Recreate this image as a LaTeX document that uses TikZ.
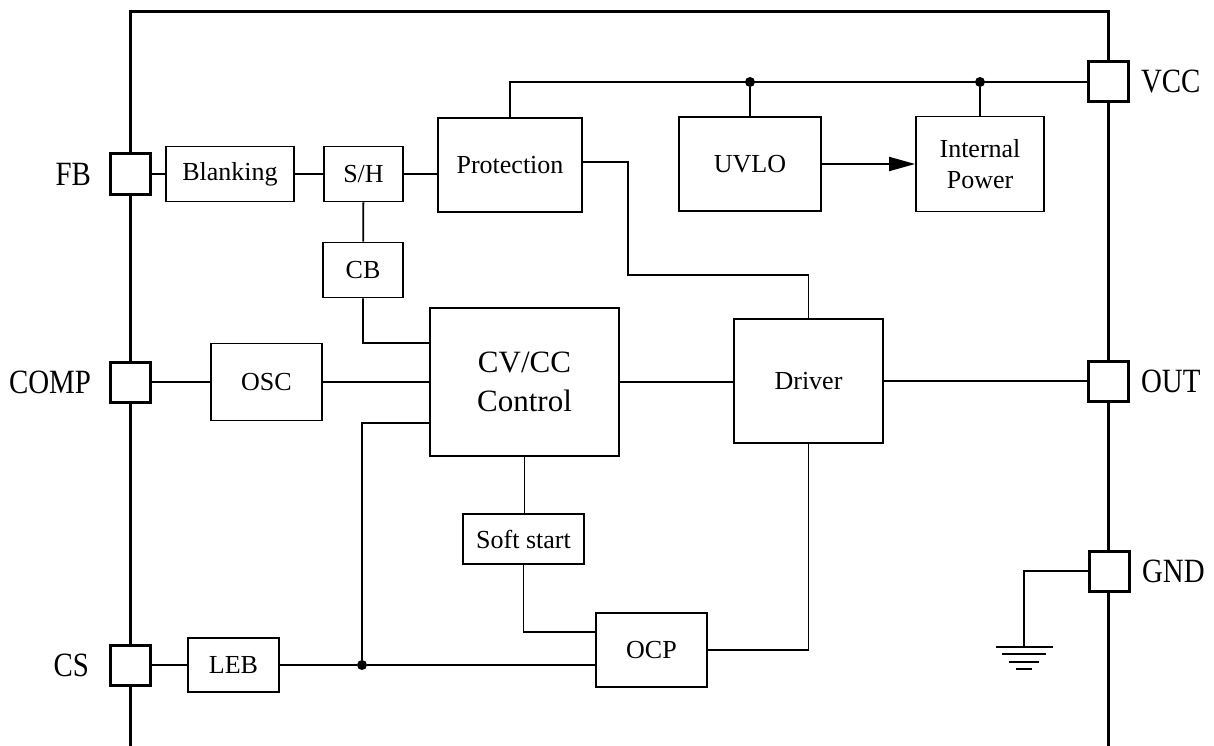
\documentclass[tikz,border=0pt]{standalone}
\usepackage{fontspec}
\setmainfont{Liberation Serif}
\usepackage{graphicx}
\usetikzlibrary{calc,positioning,arrows.meta}
\newcommand{\pinlabel}[1]{\scalebox{0.85}[1]{\fontsize{34}{40}\selectfont #1}}

\begin{document}
\begin{tikzpicture}[x=1pt,y=-1pt,
    blk/.style={draw,line width=1.8pt,inner sep=0pt,align=center,font=\fontsize{26}{31}\selectfont},
    pin/.style={draw,line width=3pt,fill=white,minimum size=40pt,inner sep=0pt},
    wire/.style={line width=1.8pt},
    rail/.style={line width=3pt},
    jdot/.style={circle,fill,inner sep=0pt,minimum size=10pt}]
    \useasboundingbox (0,0) rectangle (1214,746);
    % package outline
    \draw[rail](130,746)--(130,12)--(1108,12)--(1108,746);
    % pins
    \node[pin](FB)at(130,174){};
    \node[pin](COMP)at(130,382){};
    \node[pin](CS)at(130,665){};
    \node[pin](VCC)at(1108,82){};
    \node[pin](OUT)at(1108,381){};
    \node[pin](GND)at(1109,571){};
    \node[left=14pt of FB]{\pinlabel{FB}};
    \node[left=14pt of COMP]{\pinlabel{COMP}};
    \node[left=16pt of CS]{\pinlabel{CS}};
    \node[right=8pt of VCC]{\pinlabel{VCC}};
    \node[right=8pt of OUT]{\pinlabel{OUT}};
    \node[right=8pt of GND]{\pinlabel{GND}};
    % blocks
    \node[blk,minimum width=128pt,minimum height=55pt](blank)at(230,174){Blanking};
    \node[blk,minimum width=79pt,minimum height=55pt](sh)at(363.5,174){S/H};
    \node[blk,minimum width=144pt,minimum height=94pt](prot)at(510,165){Protection};
    \node[blk,minimum width=80pt,minimum height=55pt](cb)at(363,270){CB};
    \node[blk,minimum width=142pt,minimum height=94pt](uvlo)at(750,164){UVLO};
    \node[blk,minimum width=128pt,minimum height=95pt](ipow)at(980,164){Internal\\Power};
    \node[blk,minimum width=111pt,minimum height=77pt](osc)at(266.5,382){OSC};
    \node[blk,minimum width=189pt,minimum height=148pt,font=\fontsize{31}{39}\selectfont](cvcc)at(524.5,382){CV/CC\\Control};
    \node[blk,minimum width=149pt,minimum height=124pt](drv)at(808.5,381){Driver};
    \node[blk,minimum width=121pt,minimum height=50pt](soft)at(523.5,539){Soft start};
    \node[blk,minimum width=91pt,minimum height=54pt](leb)at(233.5,665){LEB};
    \node[blk,minimum width=111pt,minimum height=74pt](ocp)at(651.5,650){OCP};
    % junctions
    \node[jdot](j1)at(uvlo.north |- VCC){};
    \node[jdot](j2)at(ipow.north |- VCC){};
    \node[jdot](j3)at(362,665){};
    \coordinate(pbend)at(628,275);
    \coordinate(gtop)at(1024,647);
    % wiring
    \draw[wire](FB)--(blank) (blank)--(sh) (sh.east)--(sh.east -| prot.west);
    \draw[wire](sh)--(cb) (cb.south)|-([yshift=39pt]cvcc.west);
    \draw[wire](prot.north)|-(VCC.west) (uvlo.north)--(j1) (ipow.north)--(j2);
    \draw[wire,-{Triangle[length=26pt,width=14pt]}](uvlo)--(ipow);
    \draw[wire]([yshift=3pt]prot.east)-|(pbend)-|(drv.north);
    \draw[wire](COMP)--(osc) (osc)--(cvcc) (cvcc.east)--(cvcc.east -| drv.west);
    \draw[wire](drv)--(OUT);
    \draw[wire](CS)--(leb) (leb)--(j3)--(j3 -| ocp.west);
    \draw[wire](j3)|-([yshift=-41pt]cvcc.west);
    \draw[wire](cvcc.south)--(soft.north -| cvcc.south) (soft.south)|-([yshift=18pt]ocp.west);
    \draw[wire](ocp.east)-|(drv.south);
    % ground
    \draw[wire](GND.west)-|(gtop);
    \draw[line width=2pt]($(gtop)+(-28,0)$)--++(57,0)
        ($(gtop)+(-22,7)$)--++(44,0)
        ($(gtop)+(-15,15)$)--++(30,0)
        ($(gtop)+(-8,22)$)--++(16,0);
\end{tikzpicture}
\end{document}
